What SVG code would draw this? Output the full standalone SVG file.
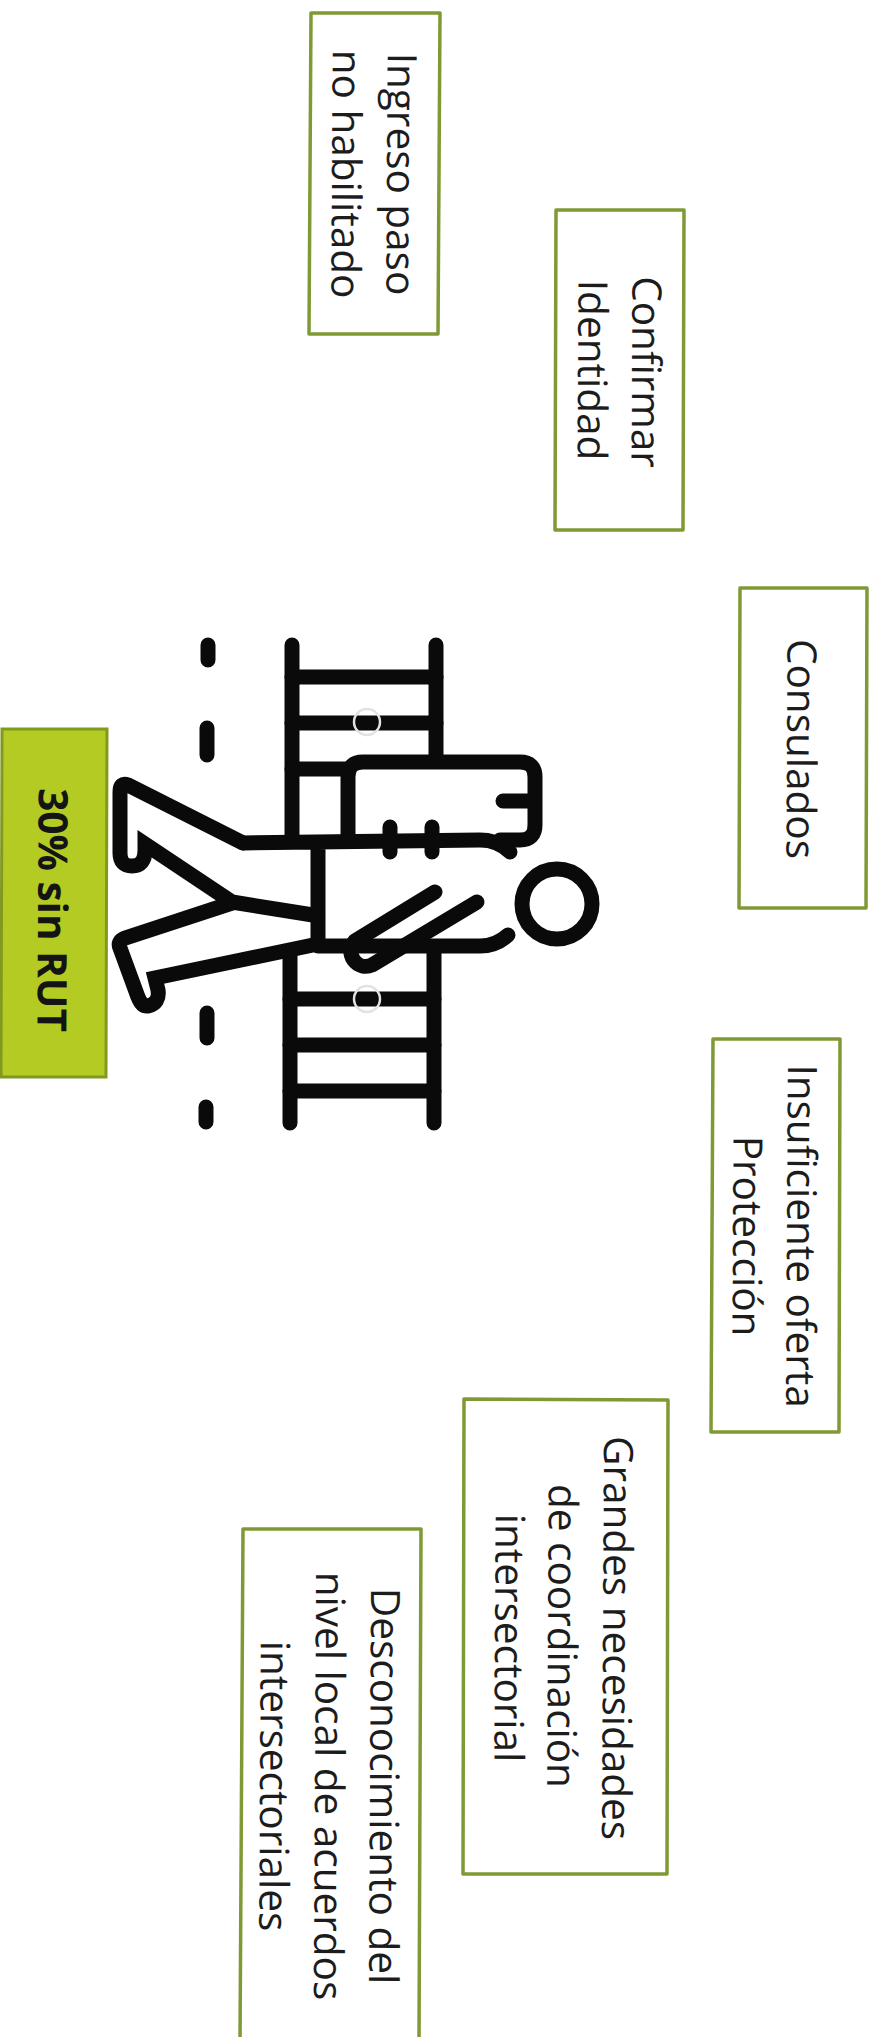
<svg xmlns="http://www.w3.org/2000/svg" width="874" height="2037" viewBox="0 0 874 2037">
<style>
.box{fill:#fff;stroke:#7f9a35;stroke-width:3.5;stroke-linejoin:round}
.hot{fill:#b3cb22;stroke:#7f9a1f;stroke-width:3}
text{font-family:"Open Sans","Noto Sans","Liberation Sans",sans-serif;font-size:40.5px;fill:#1c1c1c;text-anchor:middle}
.b{font-weight:700;fill:#141414}
.ic{fill:none;stroke:#0a0a0a;stroke-width:15;stroke-linecap:round;stroke-linejoin:round}
.leg{stroke-linejoin:miter;stroke-miterlimit:6}
.wm{fill:none;stroke:#e2e2e2;stroke-width:2.5}
</style>
<rect width="874" height="2037" fill="#fff"/>
<g id="icono">
<path class="ic" d="M208,645V660M207,728V755M207,1013V1038M206,1107V1122"/>
<path class="ic" d="M292,645V840M436,645V760M290,953V1123M434,948V1123"/>
<path class="ic" stroke-linecap="butt" d="M292,677H436M292,723H436M292,769H346M290,999H434M290,1045H434M290,1091H434"/>
<circle class="wm" cx="367" cy="722" r="13"/>
<circle class="wm" cx="367" cy="999" r="13"/>
<path class="ic" d="M348,835V777Q348,762 363,762H520Q535,762 535,777V825Q535,840 520,840H500M503,801H535"/>
<path class="ic" d="M390,827V852M432,827V852"/>
<path class="ic" d="M318,946V842M243,843L480,840Q498,840 510,852M318,946H480Q496,946 508,935"/>
<path class="ic leg" d="M243,843L128,785Q120,782 120,792V853Q120,866 132,866Q145,866 145,850V844L232,902L313,915"/>
<path class="ic leg" d="M232,903L125,938Q117,941 120,948L138,997Q142,1007 148,1006Q160,1003 158,990L155,978L313,945"/>
<path class="ic" d="M435,892L355,941A15,15 0 0 0 372,965L477,902"/>
<circle class="ic" cx="557" cy="904" r="35"/>
</g>
<g id="nodo-ingreso">
<polygon class="box" points="311,13 440,13 438,334 309,334"/>
<text transform="translate(387,174) rotate(90.3)">Ingreso paso</text>
<text transform="translate(332,174) rotate(90.3)">no habilitado</text>
</g>
<g id="nodo-confirmar">
<polygon class="box" points="556,210 684,210 683,530 555,530"/>
<text transform="translate(632,372) rotate(90.3)">Confirmar</text>
<text transform="translate(578,370) rotate(90.3)">Identidad</text>
</g>
<g id="nodo-consulados">
<polygon class="box" points="740,588 867,588 866,908 739,908"/>
<text transform="translate(787,749) rotate(90.3)">Consulados</text>
</g>
<g id="nodo-insuficiente">
<polygon class="box" points="713,1039 840,1039 839,1432 711,1432"/>
<text transform="translate(787,1236) rotate(90.3)">Insuficiente oferta</text>
<text transform="translate(733,1236) rotate(90.3)">Protección</text>
</g>
<g id="nodo-grandes">
<polygon class="box" points="464,1399 668,1400 667,1874 463,1874"/>
<text transform="translate(603,1638) rotate(90.3)">Grandes necesidades</text>
<text transform="translate(548,1636) rotate(90.3)">de coordinación</text>
<text transform="translate(495,1638) rotate(90.3)">intersectorial</text>
</g>
<g id="nodo-desconocimiento">
<polygon class="box" points="243,1529 421,1529 419,2045 240,2045"/>
<text transform="translate(370,1786) rotate(90.3)">Desconocimiento del</text>
<text transform="translate(315,1786) rotate(90.3)">nivel local de acuerdos</text>
<text transform="translate(260,1786) rotate(90.3)">intersectoriales</text>
</g>
<g id="nodo-30">
<polygon class="hot" points="2,729 107,729 106,1077 1,1077"/>
<text class="b" transform="translate(38,910) rotate(90.3)">30% sin RUT</text>
</g>
</svg>
